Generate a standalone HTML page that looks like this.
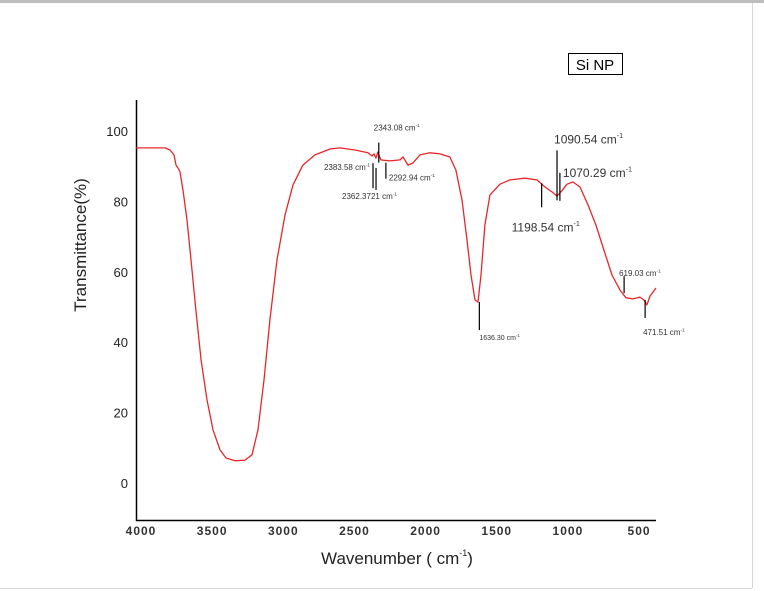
<!DOCTYPE html>
<html><head><meta charset="utf-8">
<style>
body{margin:0;background:#fff;}
svg{display:block;font-family:"Liberation Sans",Arial,sans-serif;}
</style></head>
<body>
<svg id="chart" width="764" height="591" viewBox="0 0 764 591">
<rect x="0" y="0" width="764" height="3" fill="#bdbdbd"/>
<line x1="752.5" y1="3" x2="752.5" y2="588" stroke="#d8d8d8"/>
<line x1="0" y1="588.5" x2="752" y2="588.5" stroke="#d8d8d8"/>
<g id="plot"></g>
<rect x="568.5" y="53.5" width="54" height="21" fill="#fff" stroke="#000"/>
<text x="595" y="70" font-size="15" text-anchor="middle">Si NP</text>
<text transform="translate(86,245) rotate(-90)" font-size="17" text-anchor="middle" fill="#222">Transmittance(%)</text>
<text x="397" y="564" font-size="17" text-anchor="middle" fill="#222">Wavenumber ( cm<tspan font-size="9" dy="-8">-1</tspan><tspan dy="8">)</tspan></text>
</svg>
<script>
const wavenumbers=[4049,3951,3845,3810,3782,3768,3754,3740,3719,3691,3663,3628,3592,3550,3508,3459,3417,3353,3283,3234,3192,3150,3108,3058,3002,2946,2876,2791,2686,2616,2510,2419,2391,2377,2363,2349,2328,2264,2194,2173,2138,2103,2054,1983,1913,1843,1801,1758,1723,1695,1667,1646,1625,1597,1562,1492,1421,1316,1231,1175,1126,1091,1056,1021,978,929,873,817,761,704,648,606,557,508,480,459,437,395];
const transmittance=[95.2,95.2,95.2,94.6,93.2,90.3,89.5,88.4,83.2,74.7,63.4,49.1,34.9,23.6,15.1,9.4,7.1,6.3,6.5,8.0,15.1,29.3,46.3,63.4,76.1,84.7,90.3,93.2,94.9,95.2,94.6,93.8,92.9,93.5,92.3,94.0,91.8,91.5,91.8,92.6,90.3,90.9,93.2,93.8,93.5,92.6,88.9,80.4,69.0,59.1,52.0,51.4,59.1,73.3,81.8,84.9,86.1,86.6,86.1,84.1,82.7,81.5,83.0,84.9,85.5,84.1,79.0,73.3,66.2,59.1,54.8,52.6,52.3,52.8,52.0,50.6,53.1,55.4];
const xTicks=[4000,3500,3000,2500,2000,1500,1000,500];
const yTicks=[0,20,40,60,80,100];
const peakWn=[2343.08,2383.58,2292.94,2362.3721,1636.30,1198.54,1090.54,1070.29,619.03,471.51];
const peakLabels=["2343.08 cm","2383.58 cm","2292.94 cm","2362.3721 cm","1636.30 cm","1198.54 cm","1090.54 cm","1070.29 cm","619.03 cm","471.51 cm"];
const peakT=[95,92,91,91.5,51.4,86,84,83,54.5,52];

const NS="http://www.w3.org/2000/svg";
const X=w=>143+(4000-w)*0.1423;
const Y=t=>483-t*3.52;
const g=document.getElementById('plot');
function mk(tag,attrs){const e=document.createElementNS(NS,tag);for(const k in attrs)e.setAttribute(k,attrs[k]);g.appendChild(e);return e;}

const yAxis=mk('line',{x1:136.5,y1:100,x2:136.5,y2:521,stroke:'#000','stroke-width':1.5});


const xAxis=mk('line',{x1:136,y1:520.5,x2:656,y2:520.5,stroke:'#000','stroke-width':1.5});



xTicks.forEach(v=>{const t=mk('text',{x:X(v)-2,y:535,'font-size':12,'font-weight':'bold','text-anchor':'middle',fill:'#333','letter-spacing':'1'});t.textContent=v;

});
yTicks.forEach(v=>{const t=mk('text',{x:128,y:Y(v)+5,'font-size':13,'text-anchor':'end',fill:'#222'});t.textContent=v;

});

const d=wavenumbers.map((w,i)=>(i?'L':'M')+X(w).toFixed(1)+','+Y(transmittance[i]).toFixed(1)).join(' ');
const line=mk('path',{d:d,fill:'none',stroke:'#e8262a','stroke-width':1.3,'stroke-linejoin':'round'});



// annotation layout: [lineTopOffset, lineBottomOffset, labelDx, labelDy, fontSize, anchor]
const lay=[[-6,14,-5,-18,8,'start'],[4,29,-3,11,8,'end'],[0,16,3,18,8,'start'],[7,29,-34,38,8,'start'],[0,28,0,38,7,'start'],[3,27,-30,51,12,'start'],[-37,13,-3,-44,12,'start'],[-18,10,3,-14,12,'start'],[-15,2,-5,-15,8,'start'],[0,18,-2,35,8,'start']];
peakWn.forEach((w,i)=>{const L=lay[i];const x=X(w),y=Y(peakT[i]);
const l=mk('line',{x1:x,y1:y+L[0],x2:x,y2:y+L[1],stroke:'#000','stroke-width':1.2});


const t=mk('text',{x:x+L[2],y:y+L[3],'font-size':L[4],'text-anchor':L[5],fill:'#333'});
t.textContent=peakLabels[i];
const s=document.createElementNS(NS,'tspan');s.setAttribute('font-size',L[4]*0.6);s.setAttribute('dy',-L[4]*0.45);s.textContent='-1';t.appendChild(s);

});
</script>
</body></html>
